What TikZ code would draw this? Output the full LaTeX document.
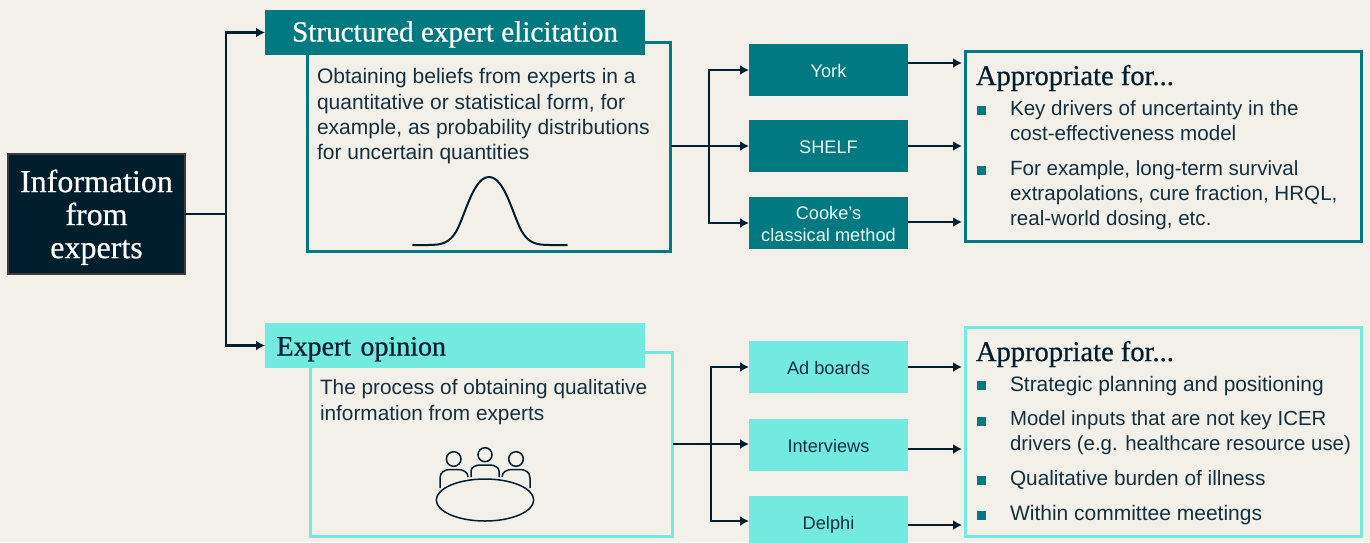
\documentclass[tikz,border=0pt]{standalone}
\usepackage{fontspec}
\setmainfont{Liberation Sans}
\newfontfamily\headfont[RawFeature={embolden=0.6}]{Liberation Serif}
\usetikzlibrary{arrows.meta}
\definecolor{bgc}{HTML}{F3F0EA}
\definecolor{tealc}{HTML}{007A80}
\definecolor{aquac}{HTML}{72EADF}
\definecolor{darkc}{HTML}{011E2E}
\definecolor{txtc}{HTML}{14303F}
\tikzset{
 every node/.append style={outer sep=0pt},
 arr/.style={draw=darkc,line width=2.4pt,-{Latex[length=9pt,width=10pt]}},
 lin/.style={draw=darkc,line width=2.4pt},
 hd/.style={minimum width=380pt,minimum height=45pt,inner sep=0pt,anchor=north west},
 meth/.style={minimum width=159pt,minimum height=52pt,inner sep=0pt,anchor=north west,align=center,font=\fontsize{18.2}{22}\selectfont},
 methone/.style={meth,text height=16pt,text depth=1pt},
 bodytxt/.style={anchor=west,align=left,inner sep=0pt,text=txtc,font=\fontsize{20.8}{25.3}\selectfont},
 apphd/.style={anchor=west,inner sep=0pt,text=darkc,font=\headfont\fontsize{28.5}{30}\selectfont},
 bul/.style={fill=tealc,minimum size=9pt,inner sep=0pt},
 ico/.style={draw=darkc,line width=1.5pt}
}
\begin{document}
\begin{tikzpicture}[x=1pt,y=-1pt]
\useasboundingbox (0,0) rectangle (1370,542);
\fill[bgc] (0,0) rectangle (1370,542);
% outlined frames
\node[draw=tealc,line width=3pt,minimum width=363pt,minimum height=209pt,inner sep=0pt,anchor=north west] (f1) at (307.5,42.5) {};
\node[draw=aquac,line width=3pt,minimum width=362pt,minimum height=184pt,inner sep=0pt,anchor=north west] (f2) at (310.5,352.5) {};
\node[draw=tealc,line width=3pt,minimum width=396pt,minimum height=190pt,inner sep=0pt,anchor=north west] (a1) at (965.5,51.5) {};
\node[draw=aquac,line width=3pt,minimum width=396pt,minimum height=209pt,inner sep=0pt,anchor=north west] (a2) at (965.5,327.5) {};
% main
\node[fill=darkc,draw=black!75!bgc,line width=1.5pt,minimum width=177pt,minimum height=120pt,inner sep=0pt,anchor=north west,align=center,text=white,font=\headfont\fontsize{32}{33}\selectfont] (info) at (8,154) {\rule{0pt}{29pt}Information\\from\\experts};
% headers
\node[hd,fill=tealc,text=white,font=\headfont\fontsize{29.2}{30}\selectfont,text height=24pt,text depth=6pt] (h1) at (265,10) {Structured expert elicitation};
\node[hd,fill=aquac,text=darkc,text width=357pt,align=left,font=\headfont\fontsize{28}{30}\selectfont,text height=26pt,text depth=6pt] (h2) at (265,323) {Expert opinion};
% methods
\node[methone,fill=tealc,text=white!85!aquac] (york) at (749,44) {York};
\node[methone,fill=tealc,text=white!85!aquac] (shelf) at (749,120) {SHELF};
\node[meth,fill=tealc,text=white!85!aquac] (cooke) at (749,197) {\rule{0pt}{16pt}Cooke’s\\classical method};
\node[methone,fill=aquac,text=txtc] (ad) at (749,341) {Ad boards};
\node[methone,fill=aquac,text=txtc] (intv) at (749,419) {Interviews};
\node[methone,fill=aquac,text=txtc] (delphi) at (749,496) {Delphi};
% body text
\node[bodytxt,font=\fontsize{21}{25.3}\selectfont] (t1) at (317,116.5) {Obtaining beliefs from experts in a\\quantitative or statistical form, for\\example, as probability distributions\\for uncertain quantities};
\node[bodytxt] (t2) at (320,402) {The process of obtaining qualitative\\information from experts};
% appropriate 1
\node[apphd] (ap1) at (976,78) {Appropriate for...};
\node[bul] (b11) at (981.5,110) {};
\node[bodytxt,font=\fontsize{20.6}{25.3}\selectfont] (p11) at (1010,120.5) {Key drivers of uncertainty in the\\cost-effectiveness model};
\node[bul] (b12) at (981.5,170) {};
\node[bodytxt,font=\fontsize{20.6}{25.3}\selectfont] (p12) at (1010,195) {For example, long-term survival\\extrapolations, cure fraction, HRQL,\\real-world dosing, etc.};
% appropriate 2
\node[apphd] (ap2) at (976,354) {Appropriate for...};
\node[bul] (b21) at (981.5,385) {};
\node[bodytxt,font=\fontsize{20.9}{25.3}\selectfont] (p21) at (1010,386) {Strategic planning and positioning};
\node[bul] (b22) at (981.5,421) {};
\node[bodytxt,font=\fontsize{20.4}{25.3}\selectfont] (p22) at (1010,433) {Model inputs that are not key ICER\\drivers (e.g. healthcare resource use)};
\node[bul] (b23) at (981.5,480) {};
\node[bodytxt] (p23) at (1010,480) {Qualitative burden of illness};
\node[bul] (b24) at (981.5,515) {};
\node[bodytxt,font=\fontsize{21}{25.3}\selectfont] (p24) at (1010,515) {Within committee meetings};
% connectors, left tree
\coordinate (j0) at (226,214);
\coordinate (tipa) at (962,0);
\draw[lin] (info.east |- j0) -- (j0);
\draw[arr] (j0) |- (h1.west);
\draw[arr] (j0) |- (h2.west);
% upper branch
\coordinate (j1) at (709,146);
\draw[lin] (f1.east |- j1) -- (j1);
\draw[arr] (j1) |- (york.west);
\draw[arr] (j1) -- (shelf.west |- j1);
\draw[arr] (j1) |- (cooke.west);
% lower branch
\coordinate (j2) at (711,444);
\draw[lin] (f2.east |- j2) -- (j2);
\draw[arr] (j2) |- (ad.west);
\draw[arr] (j2) -- (intv.west |- j2);
\coordinate (dl) at (749,521);
\draw[arr] (j2) |- (dl);
% outgoing
\coordinate (o1) at (908,63);
\coordinate (o2) at (908,146);
\coordinate (o3) at (908,222);
\coordinate (o4) at (908,367);
\coordinate (o5) at (908,449);
\coordinate (o6) at (908,525);
\foreach \c in {o1,o2,o3,o4,o5,o6}{\draw[arr] (\c) -- (tipa |- \c);}
% bell curve
\draw[draw=darkc,line width=2pt,line cap=round] (413,245) -- (428,245)
 .. controls (442,245) and (450,243) .. (457,230)
 .. controls (466,212) and (474,177) .. (489,177)
 .. controls (504,177) and (512,212) .. (521,230)
 .. controls (528,243) and (536,245) .. (550,245) -- (567,245);
% table icon
\draw[ico] (453.7,459) circle (7.3);
\draw[ico] (485,454.7) circle (7);
\draw[ico] (516,459) circle (7.3);
\draw[ico] (485,500) ellipse (48.7 and 21);
\draw[ico] (440,488) -- (440,478) .. controls (440,472) and (445,469.5) .. (450,469.5) -- (458,469.5) .. controls (463,469.5) and (468,472) .. (468,477);
\draw[ico] (471,477) -- (471,471) .. controls (471,467) and (476,465) .. (480,465) -- (490,465) .. controls (494,465) and (499,467) .. (499,471) -- (499,477);
\draw[ico] (502,477) .. controls (502,472) and (507,469.5) .. (512,469.5) -- (520,469.5) .. controls (525,469.5) and (530,472) .. (530,478) -- (530,488);
\end{tikzpicture}
\end{document}
